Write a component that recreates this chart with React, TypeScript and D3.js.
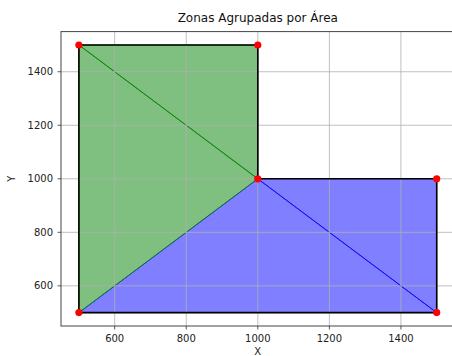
import { useEffect, useRef } from 'react'
import * as d3 from 'd3'

// vertices of the zoned area (outer outline, in order)
const vertices: [number, number][] = [
  [500, 500],
  [500, 1500],
  [1000, 1500],
  [1000, 1000],
  [1500, 1000],
  [1500, 500],
]

// triangles grouped per zone
const blueTriangles: [number, number][][] = [
  [[500, 500], [1000, 1000], [1500, 500]],
  [[1000, 1000], [1500, 1000], [1500, 500]],
]
const greenTriangles: [number, number][][] = [
  [[500, 1500], [1000, 1500], [1000, 1000]],
  [[500, 1500], [1000, 1000], [500, 500]],
]

const xTicks = [600, 800, 1000, 1200, 1400]
const yTicks = [600, 800, 1000, 1200, 1400]
const title = 'Zonas Agrupadas por Área'

const App = () => {
  const svgRef = useRef<SVGSVGElement>(null)

  useEffect(() => {
    if (!svgRef.current) return
    const W = 452
    const H = 356
    const margin = { left: 61, top: 31.6, right: 454.6, bottom: 326 }

    const svg = d3.select(svgRef.current)
    svg.selectAll('*').remove()
    svg.attr('width', W).attr('height', H)

    const x = d3.scaleLinear().domain([450, 1550]).range([margin.left, margin.right])
    const y = d3.scaleLinear().domain([450, 1550]).range([margin.bottom, margin.top])

    const font = 'DejaVu Sans, sans-serif'

    const line = d3.line<[number, number]>().x((d) => x(d[0])).y((d) => y(d[1]))

    const drawZone = (tris: [number, number][][], color: string) => {
      const g = svg.append('g')
      g.selectAll('path').data(tris).enter().append('path')
        .attr('d', (d) => line(d) + 'Z')
        .attr('fill', color).attr('fill-opacity', 0.5)
        .attr('stroke', color).attr('stroke-opacity', 0.75).attr('stroke-width', 1)
        .attr('stroke-linejoin', 'round')
    }
    drawZone(blueTriangles, '#0000ff')
    drawZone(greenTriangles, '#008000')

    // grid (above patches, below lines, like matplotlib)
    const grid = svg.append('g')
    grid.selectAll('.gx').data(xTicks).enter().append('line')
      .attr('x1', (d) => x(d)).attr('x2', (d) => x(d))
      .attr('y1', margin.top).attr('y2', margin.bottom)
      .attr('stroke', '#b0b0b0').attr('stroke-width', 0.8)
    grid.selectAll('.gy').data(yTicks).enter().append('line')
      .attr('y1', (d) => y(d)).attr('y2', (d) => y(d))
      .attr('x1', margin.left).attr('x2', margin.right)
      .attr('stroke', '#b0b0b0').attr('stroke-width', 0.8)

    // outer outline
    svg.append('path')
      .attr('d', line(vertices) + 'Z')
      .attr('fill', 'none').attr('stroke', '#000').attr('stroke-width', 1.6)

    // vertices
    svg.append('g').selectAll('circle').data(vertices).enter().append('circle')
      .attr('cx', (d) => x(d[0])).attr('cy', (d) => y(d[1]))
      .attr('r', 3.6).attr('fill', '#ff0000')

    // spines
    svg.append('rect')
      .attr('x', margin.left).attr('y', margin.top)
      .attr('width', margin.right - margin.left).attr('height', margin.bottom - margin.top)
      .attr('fill', 'none').attr('stroke', '#444').attr('stroke-width', 1)

    // ticks
    const ax = svg.append('g')
    xTicks.forEach((t) => {
      ax.append('line').attr('x1', x(t)).attr('x2', x(t))
        .attr('y1', margin.bottom).attr('y2', margin.bottom + 3.5)
        .attr('stroke', '#333').attr('stroke-width', 0.8)
      ax.append('text').attr('x', x(t)).attr('y', margin.bottom + 16)
        .attr('text-anchor', 'middle').style('font-size', '10px')
        .style('font-family', font).attr('fill', '#222').text(t)
    })
    yTicks.forEach((t) => {
      ax.append('line').attr('x1', margin.left - 3.5).attr('x2', margin.left)
        .attr('y1', y(t)).attr('y2', y(t))
        .attr('stroke', '#333').attr('stroke-width', 0.8)
      ax.append('text').attr('x', margin.left - 8).attr('y', y(t) + 3.6)
        .attr('text-anchor', 'end').style('font-size', '10px')
        .style('font-family', font).attr('fill', '#222').text(t)
    })

    // labels
    svg.append('text').attr('x', (margin.left + margin.right) / 2).attr('y', 355)
      .attr('text-anchor', 'middle').style('font-size', '10px')
      .style('font-family', font).attr('fill', '#222').text('X')
    svg.append('text')
      .attr('transform', `translate(15,${(margin.top + margin.bottom) / 2}) rotate(-90)`)
      .attr('text-anchor', 'middle').style('font-size', '10px')
      .style('font-family', font).attr('fill', '#222').text('Y')
    svg.append('text').attr('x', (margin.left + margin.right) / 2).attr('y', 22)
      .attr('text-anchor', 'middle').style('font-size', '12px')
      .style('font-family', font).attr('fill', '#111').text(title)
  }, [])

  return (
    <div style={{ position: 'absolute', left: 0, top: 0, width: 452, height: 356, overflow: 'hidden', background: '#fff' }}>
      <svg ref={svgRef} style={{ display: 'block' }}></svg>
    </div>
  )
}

export default App
